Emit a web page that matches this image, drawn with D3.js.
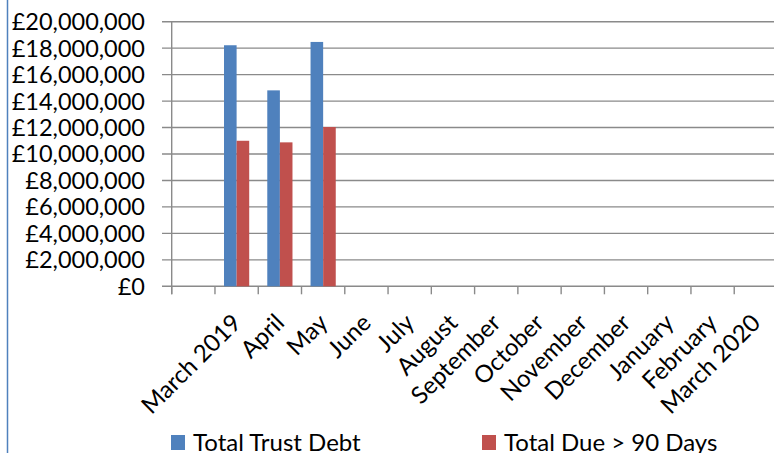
<!DOCTYPE html>
<html><head><meta charset="utf-8">
<script src="https://cdn.jsdelivr.net/npm/d3@7"></script>
<style>html,body{margin:0;padding:0;background:#fff;overflow:hidden}</style>
</head><body>
<svg id="c" width="774" height="453"></svg>
<script>
const categories = ["", "March 2019", "April", "May", "June", "July", "August", "September", "October", "November", "December", "January", "February", "March 2020"];
const seriesNames = ["Total Trust Debt", "Total Due > 90 Days"];
const totalTrustDebt = [null, 18220000, 14810000, 18470000, null, null, null, null, null, null, null, null, null, null];
const totalDue90 = [null, 11000000, 10880000, 12040000, null, null, null, null, null, null, null, null, null, null];
const yTicks = [0, 2000000, 4000000, 6000000, 8000000, 10000000, 12000000, 14000000, 16000000, 18000000, 20000000];
const colors = ["#4f81bd", "#c0504d"];

const font = "Lato, 'Open Sans', sans-serif";
const svg = d3.select("#c");
const y = d3.scaleLinear().domain([0, 20000000]).range([286.3, 21.7]);
const x = d3.scaleBand().domain(categories).range([171.7, 777.5]).paddingInner(0).paddingOuter(0);
const bw = x.bandwidth();
const x1 = d3.scaleBand().domain(seriesNames).range([bw/2 - 12.6, bw/2 + 12.6]).padding(0);

// left border line
svg.append("line").attr("x1", 7.5).attr("x2", 7.5).attr("y1", 0).attr("y2", 453)
  .attr("stroke", "#4f81bd").attr("stroke-width", 1.5);

// gridlines
svg.append("g").selectAll("line").data(yTicks).join("line")
  .attr("x1", 162).attr("x2", 777.5)
  .attr("y1", d => y(d)).attr("y2", d => y(d))
  .attr("stroke", "#8a8a8a").attr("stroke-width", 1.4);

// y axis labels
const fmt = d => "£" + d3.format(",")(d);
svg.append("g").selectAll("text").data(yTicks).join("text")
  .attr("x", 145).attr("y", d => y(d)).attr("dy", "0.36em")
  .attr("text-anchor", "end").attr("font-family", font).attr("font-size", 23.5)
  .attr("fill", "#000").text(fmt);

// y axis line
svg.append("line").attr("x1", x.range()[0]).attr("x2", x.range()[0])
  .attr("y1", y(20000000)).attr("y2", y(0) + 8)
  .attr("stroke", "#8a8a8a").attr("stroke-width", 1.4);

// x ticks
const tickPos = categories.map(c => x(c)).concat([x.range()[1]]);
svg.append("g").selectAll("line").data(tickPos).join("line")
  .attr("x1", d => d).attr("x2", d => d)
  .attr("y1", y(0)).attr("y2", y(0) + 8)
  .attr("stroke", "#8a8a8a").attr("stroke-width", 1.4);

// bars
const series = [totalTrustDebt, totalDue90];
series.forEach((vals, si) => {
  svg.append("g").selectAll("rect").data(categories.map((c, i) => ({c, v: vals[i]})).filter(d => d.v != null))
    .join("rect")
    .attr("x", d => x(d.c) + x1(seriesNames[si]))
    .attr("width", x1.bandwidth())
    .attr("y", d => y(d.v))
    .attr("height", d => y(0) - y(d.v))
    .attr("fill", colors[si]);
});

// x labels
svg.append("g").selectAll("text").data(categories.filter(c => c !== "")).join("text")
  .attr("transform", d => `translate(${x(d) + bw/2 + 6},${y(0) + 38}) rotate(-45)`)
  .attr("text-anchor", "end").attr("font-family", font).attr("font-size", 24)
  .attr("fill", "#000").text(d => d);

// legend
const legendX = [171, 482];
seriesNames.forEach((n, i) => {
  svg.append("rect").attr("x", legendX[i]).attr("y", 435).attr("width", 14).attr("height", 15).attr("fill", colors[i]);
  svg.append("text").attr("x", legendX[i] + 22).attr("y", 451).attr("font-family", font).attr("font-size", 24)
    .attr("fill", "#000").text(n);
});
</script>
</body></html>
